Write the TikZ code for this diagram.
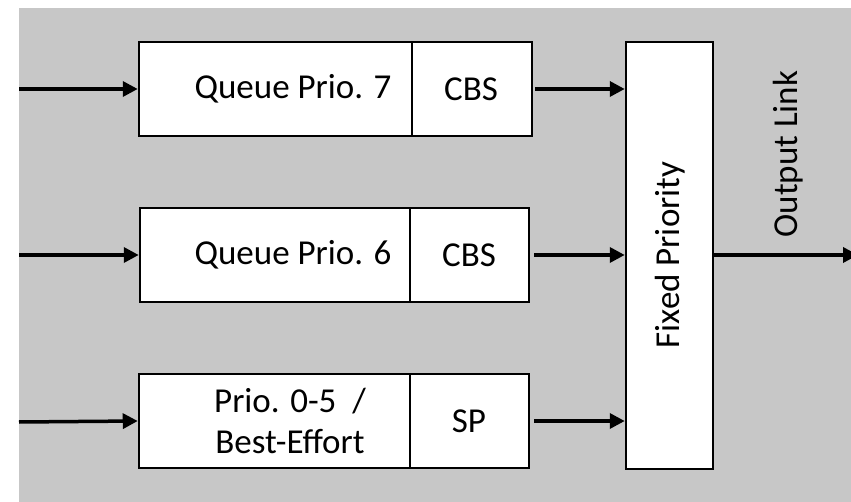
\documentclass[tikz,border=0pt]{standalone}
\usepackage{fontspec}
\setmainfont{Carlito}
\usetikzlibrary{arrows.meta}
\definecolor{bggray}{RGB}{199,199,199}
\tikzset{
  box/.style={draw=black, line width=2.5pt, fill=white, inner sep=0pt},
  lbl/.style={inner sep=0pt, font=\fontsize{35}{41}\selectfont, align=center},
  arr/.style={line width=3.5pt, -{Triangle[length=15pt,width=15pt]}}
}
\begin{document}
\begin{tikzpicture}[x=1pt,y=-1pt]
\useasboundingbox (0,0) rectangle (851,502);
\fill[bggray] (19,8) rectangle (851,502);
% coordinates for free input ends
\coordinate (in1) at (19,89);
\coordinate (in2) at (19,255);
\coordinate (in3) at (19,422);
% boxes
\node[box, minimum width=273pt, minimum height=94pt] (q7) at (275.5,89) {};
\node[box, minimum width=120pt, minimum height=94pt] (c7) at (472,89) {};
\node[box, minimum width=270pt, minimum height=94pt] (q6) at (275,255) {};
\node[box, minimum width=119pt, minimum height=94pt] (c6) at (469.5,255) {};
\node[box, minimum width=271pt, minimum height=94pt] (q0) at (274.5,421) {};
\node[box, minimum width=119pt, minimum height=94pt] (sp) at (469.5,421) {};
\node[box, minimum width=87pt, minimum height=427pt] (fp) at (669.5,255.5) {};
\coordinate (out) at (858,255);
% texts
\node[lbl] (t7) at (293,89) {Queue Prio. 7};
\node[lbl] (tc7) at (471,89) {CBS};
\node[lbl] (t6) at (293,255) {Queue Prio. 6};
\node[lbl] (tc6) at (469,255) {CBS};
\node[lbl] (t0) at (290,421) {Prio. 0-5\ \ /\\Best-Effort};
\node[lbl] (tsp) at (469,421) {SP};
\node[lbl, rotate=90] (tfp) at (670,255) {Fixed Priority};
\node[lbl, rotate=90] (tol) at (788,154) {Output Link};
% connectors
\draw[arr] (in1) -- (q7.west);
\draw[arr] (in2) -- (q6.west);
\draw[arr] (in3) -- (q0.west);
\draw[arr] ([xshift=2pt]c7.east) -- (fp.west |- c7.east);
\draw[arr] ([xshift=4pt]c6.east) -- (fp.west |- c6.east);
\draw[arr] ([xshift=4pt]sp.east) -- (fp.west |- sp.east);
\draw[arr] (fp.east |- out) -- (out);
\end{tikzpicture}
\end{document}
